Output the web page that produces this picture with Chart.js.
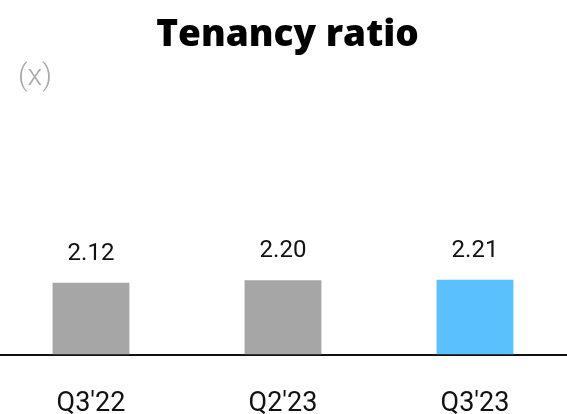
<!DOCTYPE html>
<html>
<head>
<meta charset="utf-8">
<script src="https://cdn.jsdelivr.net/npm/chart.js@4.4.0/dist/chart.umd.min.js"></script>
<style>
  html, body { margin: 0; padding: 0; background: #ffffff; overflow: hidden; }
  #wrap { position: relative; width: 567px; height: 414px; overflow: hidden; }
  #c { position: absolute; left: -5px; top: 0; }
</style>
</head>
<body>
<div id="wrap"><canvas id="c" width="585" height="453"></canvas></div>
<script>
const categories = ["Q3'22", "Q2'23", "Q3'23"];
const tenancyRatio = [2.12, 2.20, 2.21];
const valueLabels = ["2.12", "2.20", "2.21"];
const barColors = ["#a6a6a6", "#a6a6a6", "#5bc0fe"];
const chartTitle = "Tenancy ratio";
const unitLabel = "(x)";

const FONT = "'Open Sans', Roboto, sans-serif";
const TEXT_FONT = "Roboto, 'Open Sans', sans-serif";

const extraText = {
  id: 'extraText',
  afterDatasetsDraw(chart) {
    const ctx = chart.ctx;
    ctx.save();
    ctx.font = "300 30px " + TEXT_FONT;
    ctx.fillStyle = "#a9a9a9";
    ctx.textAlign = "left";
    ctx.textBaseline = "middle";
    ctx.fillText(unitLabel, 23, 77);
    const meta = chart.getDatasetMeta(0);
    ctx.font = "400 24px " + TEXT_FONT;
    ctx.fillStyle = "#111111";
    ctx.textAlign = "center";
    meta.data.forEach((bar, i) => {
      ctx.fillText(valueLabels[i], bar.x, bar.y - 29);
    });
    ctx.restore();
  }
};

new Chart(document.getElementById('c'), {
  type: 'bar',
  data: {
    labels: categories,
    datasets: [{
      data: tenancyRatio,
      backgroundColor: barColors,
      borderWidth: 0,
      barPercentage: 0.4,
      categoryPercentage: 1.0
    }]
  },
  options: {
    responsive: false,
    animation: false,
    devicePixelRatio: 1,
    layout: { padding: 0 },
    plugins: {
      legend: { display: false },
      tooltip: { enabled: false },
      title: {
        display: true,
        text: chartTitle,
        color: "#000000",
        font: { family: FONT, size: 37, weight: '800' },
        padding: { top: 13, bottom: 40 }
      }
    },
    scales: {
      x: {
        grid: { display: false, drawTicks: false },
        border: { display: true, color: "#111111", width: 2 },
        ticks: { color: "#111111", font: { family: TEXT_FONT, size: 27 }, padding: 33, maxRotation: 0 }
      },
      y: {
        display: true,
        position: 'right',
        min: 0,
        max: 7.6,
        grid: { display: false, drawTicks: false },
        border: { display: false },
        ticks: { display: false },
        afterFit(scale) { scale.width = 9; }
      }
    }
  },
  plugins: [extraText]
});
</script>
</body>
</html>
